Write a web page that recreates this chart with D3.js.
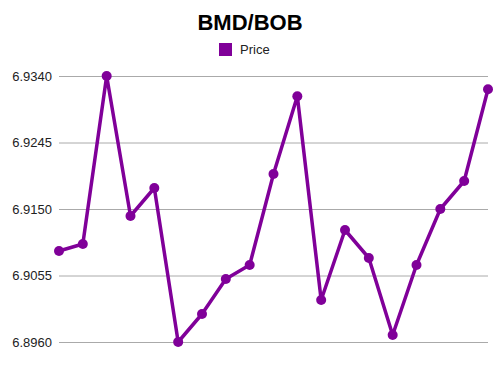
<!DOCTYPE html>
<html>
<head>
<meta charset="utf-8">
<script src="https://cdn.jsdelivr.net/npm/d3@7"></script>
<style>
  body { margin: 0; background: #fff; }
  svg { display: block; font-family: "Liberation Sans", Arial, sans-serif; }
</style>
</head>
<body>
<svg id="chart"></svg>
<script>
const title = "BMD/BOB";
const seriesName = "Price";
const prices = [6.9090, 6.9100, 6.9340, 6.9140, 6.9180, 6.8960, 6.9000, 6.9050, 6.9070,
	6.9200, 6.9311, 6.9020, 6.9120, 6.9080, 6.8970, 6.9070, 6.9150, 6.9190, 6.9321];
const yTicks = [6.8960, 6.9055, 6.9150, 6.9245, 6.9340];

const width = 500, height = 375;
const margin = { top: 76, right: 12, bottom: 33, left: 59 };
const color = "#800099";

const svg = d3.select("#chart").attr("width", width).attr("height", height);

const xScale = d3.scalePoint()
	.domain(prices.map((_, i) => i))
	.range([margin.left, width - margin.right]);

const yScale = d3.scaleLinear()
	.domain([6.8960, 6.9340])
	.range([height - margin.bottom, margin.top]);

// grid + labels
const yAxis = svg.append("g")
	.attr("transform", `translate(${margin.left},0)`)
	.call(d3.axisLeft(yScale).tickValues(yTicks).tickFormat(d3.format(".4f"))
		.tickSize(-(width - margin.left - margin.right)).tickPadding(7));
yAxis.select(".domain").remove();
yAxis.selectAll(".tick line").attr("stroke", "#aaa").attr("stroke-width", 1);
yAxis.selectAll(".tick text").attr("fill", "#222").style("font-size", "13px");

const line = d3.line()
	.x((_, i) => xScale(i))
	.y(d => yScale(d));

svg.append("path")
	.datum(prices)
	.attr("d", line)
	.attr("fill", "none")
	.attr("stroke", color)
	.attr("stroke-width", 3.5)
	.attr("stroke-linejoin", "round");

svg.selectAll("circle")
	.data(prices)
	.enter()
	.append("circle")
	.attr("cx", (_, i) => xScale(i))
	.attr("cy", d => yScale(d))
	.attr("r", 5)
	.attr("fill", color);

svg.append("text")
	.attr("x", width / 2)
	.attr("y", 30)
	.attr("text-anchor", "middle")
	.style("font-size", "22px")
	.style("font-weight", "bold")
	.text(title);

svg.append("rect")
	.attr("x", 219).attr("y", 43)
	.attr("width", 13).attr("height", 13)
	.attr("fill", color);

svg.append("text")
	.attr("x", 240)
	.attr("y", 54)
	.attr("fill", "#222")
	.style("font-size", "13px")
	.text(seriesName);
</script>
</body>
</html>
